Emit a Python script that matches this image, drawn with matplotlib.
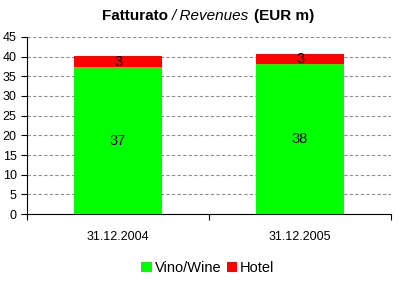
import matplotlib
matplotlib.use("Agg")
import matplotlib.pyplot as plt
import numpy as np

categories = ["31.12.2004", "31.12.2005"]
wine = [37.3, 38.1]
hotel = [2.8, 2.6]
wine_labels = ["37", "38"]
hotel_labels = ["3", "3"]

plt.rcParams['font.family'] = ['Liberation Sans', 'DejaVu Sans']

fig = plt.figure(figsize=(4.16, 2.82), dpi=100)
ax = fig.add_axes([0.065, 0.241, 0.875, 0.628])
x = np.arange(len(categories))
w = 0.48
ax.bar(x, wine, w, color='#00ff00', label='Vino/Wine', zorder=3)
ax.bar(x, hotel, w, bottom=wine, color='#ff0000', label='Hotel', zorder=3)
for i in range(len(x)):
    ax.text(x[i], wine[i] / 2, wine_labels[i], ha='center', va='center', fontsize=10.5, zorder=4)
    ax.text(x[i], wine[i] + hotel[i] / 2, hotel_labels[i], ha='center', va='center', fontsize=10.5, zorder=4)

ax.set_xlim(-0.5, 1.5)
ax.set_ylim(0, 45)
ax.set_yticks(range(0, 46, 5))
ax.set_xticks([-0.5, 0.5, 1.5], minor=False)
ax.set_xticklabels([])
ax.set_xticks(x, minor=True)
ax.set_xticklabels(categories, minor=True)
ax.tick_params(axis='x', which='minor', length=0, labelsize=9, pad=12)
ax.tick_params(axis='x', which='major', length=4, direction='out')
ax.tick_params(axis='y', labelsize=9, length=4, direction='out')
ax.yaxis.grid(True, linestyle=(0, (3, 2)), color='#909090', linewidth=0.8, zorder=0)
ax.spines['top'].set_visible(False)
ax.spines['right'].set_visible(False)
ax.set_facecolor('white')

fs = 11
t1 = fig.text(0.2, 0.943, 'Fatturato ', fontsize=fs, fontweight='bold', ha='left', va='center')
fig.canvas.draw()
r = fig.canvas.get_renderer()
bb = t1.get_window_extent(r)
t1b = fig.text(bb.x1 / fig.bbox.width, 0.943, '/ Revenues', fontsize=fs, style='italic', ha='left', va='center')
bb2 = t1b.get_window_extent(r)
t3 = fig.text(bb2.x1 / fig.bbox.width + 0.012, 0.943, '(EUR m)', fontsize=fs, fontweight='bold', ha='left', va='center')
bb3 = t3.get_window_extent(r)
total = bb3.x1 - bb.x0
shift = (fig.bbox.width / 2 - total / 2 - bb.x0) / fig.bbox.width
for t in (t1, t1b, t3):
    px, py = t.get_position()
    t.set_position((px + shift, py))

fig.legend(loc='center', bbox_to_anchor=(0.5, 0.048), ncol=2, frameon=False, fontsize=10.5,
           handlelength=0.7, handleheight=0.7, handletextpad=0.2, columnspacing=0.4)
fig.savefig('out.png', dpi=100, facecolor='white')
